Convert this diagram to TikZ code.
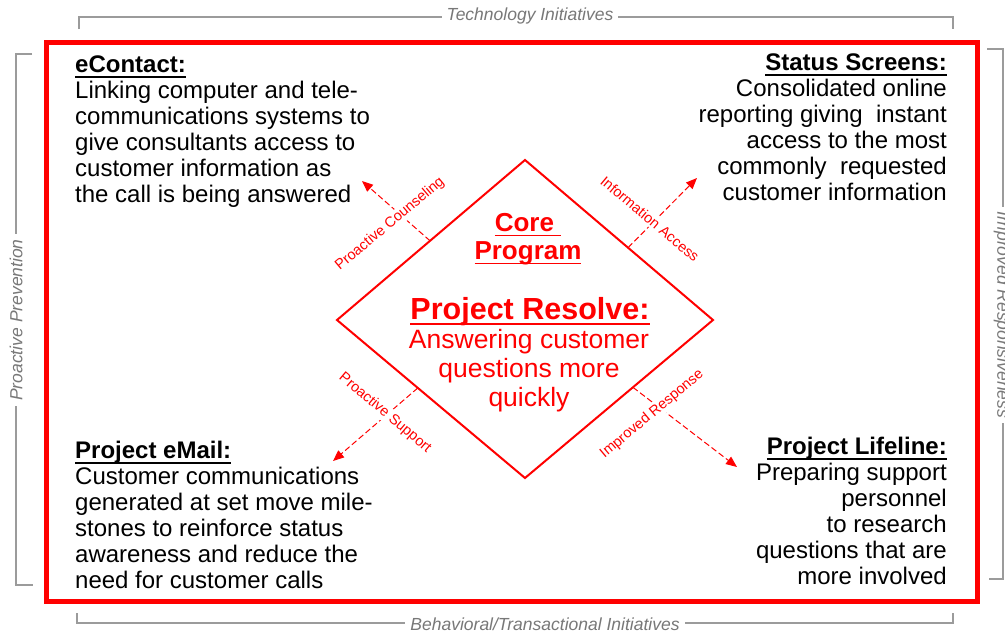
\documentclass[tikz,border=0pt]{standalone}
\usepackage{fontspec}
\setmainfont{Liberation Sans}
\usetikzlibrary{arrows.meta,calc}

\definecolor{brandred}{RGB}{255,0,0}
\definecolor{rulegray}{RGB}{155,155,155}
\definecolor{labelgray}{RGB}{120,120,120}

% underline drawn as a rule below the text box
\newcommand\ulthick{1.8pt}
\newcommand\uldepth{3pt}
\newcommand\uln[1]{\setbox0=\hbox{#1}\mbox{\rlap{\rule[-\dimexpr\uldepth+\ulthick\relax]{\wd0}{\ulthick}}\box0}}

\tikzset{
  frame/.style={draw=brandred, line width=5pt},
  edge/.style={draw=brandred, line width=2pt, line join=miter},
  flow/.style={draw=brandred, line width=1pt, dash pattern=on 6pt off 3pt,
    -{Triangle[length=11pt,width=9pt]}},
  flowlabel/.style={text=brandred, font=\fontsize{14.5}{16}\selectfont,
    fill=white, inner sep=1.5pt},
  bracket/.style={draw=rulegray, line width=1.2pt},
  axislabel/.style={text=labelgray, font=\fontsize{17.5}{19}\selectfont\itshape,
    fill=white, inner xsep=5pt, inner ysep=1pt},
  block/.style={inner sep=0pt, font=\fontsize{24}{26}\selectfont},
  redtext/.style={inner sep=0pt, text=brandred, align=center},
}

\begin{document}
\begin{tikzpicture}[x=1pt,y=-1pt]
\useasboundingbox (0,0) rectangle (1005,633);

% outer brackets with their axis labels
\draw[bracket] (79,29) -- (79,17) -- (953,17) -- (953,29);
\node[axislabel] (techaxis) at (530,16) {Technology Initiatives};
\draw[bracket] (77,613) -- (77,623) -- (953,623) -- (953,613);
\node[axislabel] (behavaxis) at (545,624) {Behavioral/Transactional Initiatives};
\draw[bracket] (32,54) -- (16,54) -- (16,585) -- (33,585);
\node[axislabel, rotate=90] (prevaxis) at (16,320) {Proactive Prevention};
\draw[bracket] (987,49) -- (1003,49) -- (1003,579) -- (989,579);
\node[axislabel, rotate=-90] (respaxis) at (1002,315) {Improved Responsiveness};

% red frame
\draw[frame] (46,42) rectangle (977.5,601);

% central diamond
\coordinate (dtop) at (525,160);
\coordinate (dright) at (713,320);
\coordinate (dbottom) at (525,478);
\coordinate (dleft) at (337,320);
\draw[edge] (dtop) -- (dright) -- (dbottom) -- (dleft) -- cycle;

% dashed links from the diamond to the four corners
\coordinate (s1) at ($(dleft)!0.495!(dtop)$);
\coordinate (e1) at (362,181);
\coordinate (s2) at ($(dtop)!0.548!(dright)$);
\coordinate (e2) at (697,178);
\coordinate (s3) at ($(dleft)!0.43!(dbottom)$);
\coordinate (e3) at (333,461);
\coordinate (s4) at ($(dright)!0.426!(dbottom)$);
\coordinate (e4) at (737,467);
\draw[flow] (s1) -- (e1);
\draw[flow] (s2) -- (e2);
\draw[flow] (s3) -- (e3);
\draw[flow] (s4) -- (e4);
\node[flowlabel, rotate=40] (l1) at (390,224) {Proactive Counseling};
\node[flowlabel, rotate=-40] (l2) at (650,219) {Information Access};
\node[flowlabel, rotate=-40] (l3) at (385,413) {Proactive Support};
\node[flowlabel, rotate=40] (l4) at (652,414) {Improved Response};

% diamond contents
\node[redtext, anchor=north, font=\fontsize{26}{28}\selectfont\bfseries]
  (core) at (528,211.7) {\strut\uln{Core~}\\\uln{Program}};
\node[redtext, anchor=base, font=\fontsize{30.5}{31}\selectfont\bfseries]
  (resolve) at (530,319.4) {\renewcommand\ulthick{2.2pt}\renewcommand\uldepth{3.5pt}\uln{Project Resolve:}};
\node[redtext, anchor=north, font=\fontsize{26.5}{29}\selectfont]
  (resolvebody) at (529,327.7) {\strut Answering customer\\questions more\\quickly};

% corner blocks
\node[block, anchor=north west, align=left] (econtact) at (75,54.4)
  {\strut\textbf{\uln{eContact:}}\\
   Linking computer and tele-\\
   communications systems to\\
   give consultants access to\\
   customer information as\\
   the call is being answered};
\node[block, anchor=north east, align=right] (status) at (947,52.4)
  {\strut\textbf{\uln{Status Screens:}}\\
   Consolidated online\\
   reporting giving~ instant\\
   access to the most\\
   commonly~ requested\\
   customer information};
\node[block, anchor=north west, align=left] (email) at (75,440.4)
  {\strut\textbf{\uln{Project eMail:}}\\
   Customer communications\\
   generated at set move mile-\\
   stones to reinforce status\\
   awareness and reduce the\\
   need for customer calls};
\node[block, anchor=north east, align=right] (lifeline) at (947,436.4)
  {\strut\textbf{\uln{Project Lifeline:}}\\
   Preparing support\\
   personnel\\
   to research\\
   questions that are\\
   more involved};
\end{tikzpicture}
\end{document}
